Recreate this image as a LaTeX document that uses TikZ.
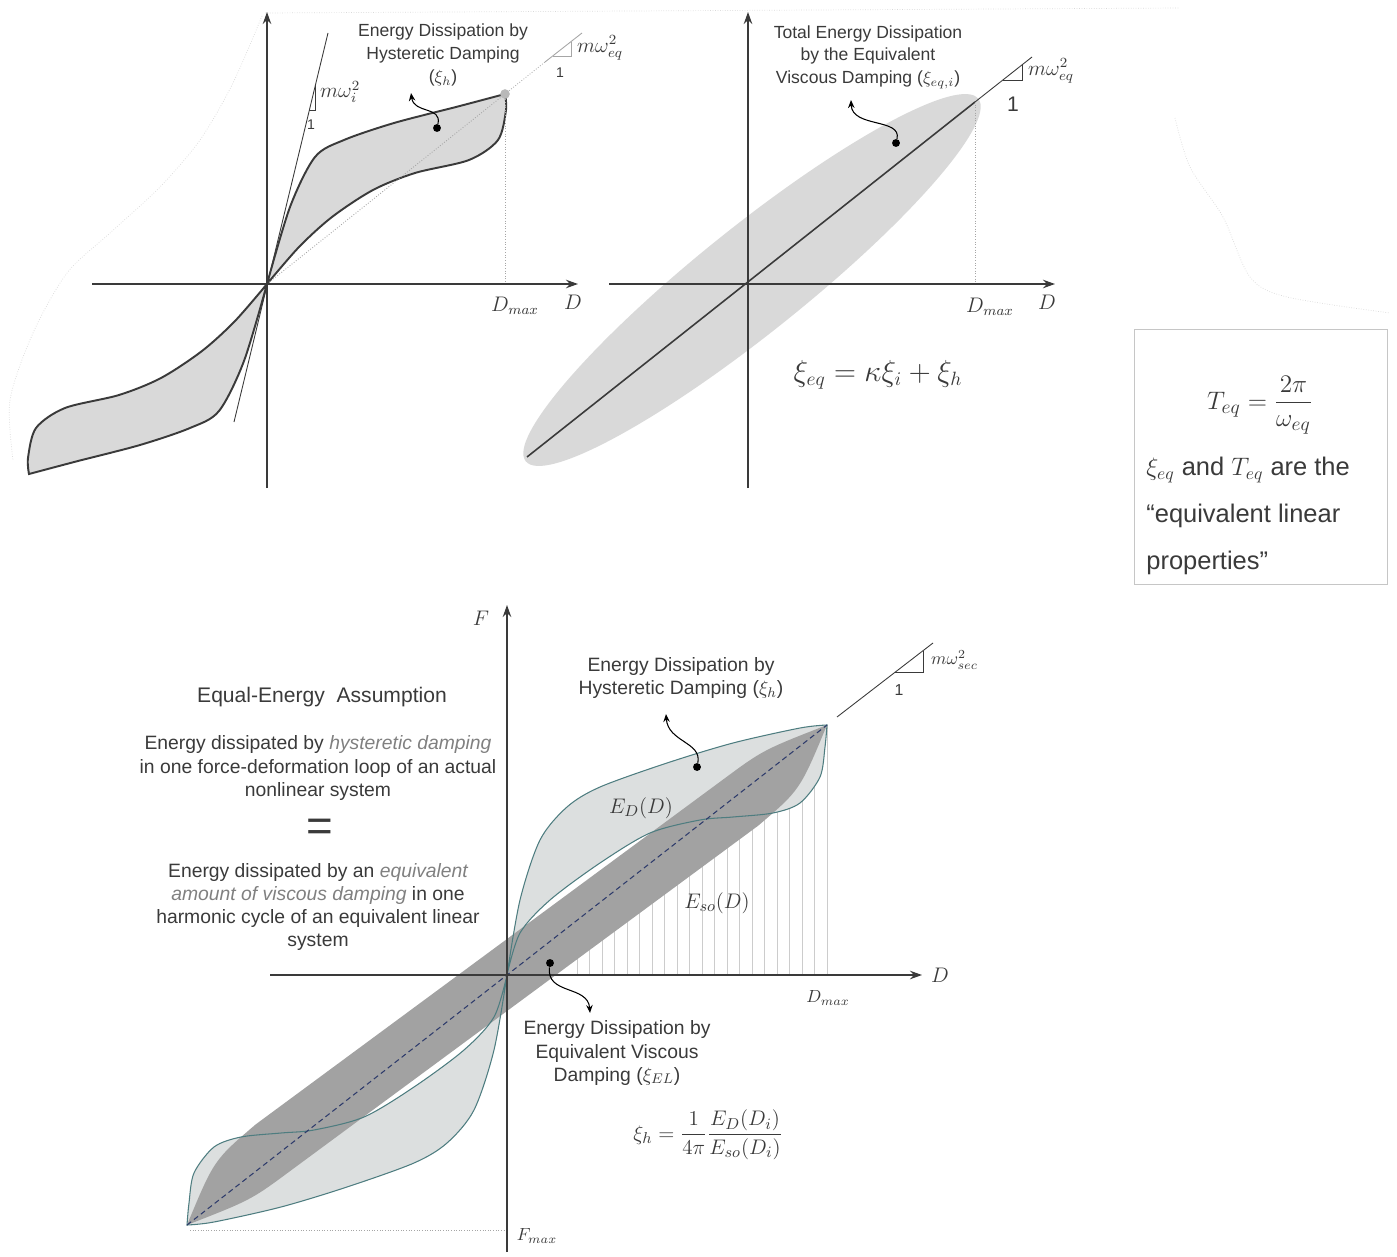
\documentclass[tikz,border=0pt]{standalone}
\usepackage{amsmath,amssymb}
\usepackage{fontspec}
\setmainfont{Liberation Sans}
\usepackage{xcolor}
\usepackage{tikz}
\usetikzlibrary{arrows.meta,positioning,calc}
\definecolor{ink}{HTML}{3A3A3A}
\definecolor{loopgray}{HTML}{D9D9D9}
\definecolor{paleloop}{HTML}{DCDFDF}
\definecolor{bandgray}{HTML}{A2A2A2}
\definecolor{tealline}{HTML}{4E7D80}
\definecolor{secnavy}{HTML}{2E3B6B}
\tikzset{
  axis/.style={draw=ink, line width=0.85pt, -{Stealth[length=2.4mm,width=1.7mm]}},
  guide/.style={draw=gray!70, densely dotted, line width=0.5pt},
  ghost/.style={draw=gray!30, densely dotted, line width=0.4pt},
  thinline/.style={draw=ink, line width=0.5pt},
  hyst/.style={fill=loopgray, draw=ink, line width=1.1pt},
  note/.style={align=center, font=\fontsize{10}{13}\selectfont, text=ink, inner sep=1pt},
  bignote/.style={align=center, font=\fontsize{11}{13.1}\selectfont, text=ink, inner sep=1pt},
  pin/.style={circle, fill=black, inner sep=0pt, minimum size=4.5pt},
  tipdot/.style={circle, fill=gray!55, inner sep=0pt, minimum size=5.5pt},
  curly/.style={-{Stealth[length=1.6mm,width=1.3mm]}, line width=0.6pt},
  lbl/.style={font=\fontsize{12}{14}\selectfont, text=ink, inner sep=1pt},
  hatch/.style={draw=gray!40, line width=0.35pt},
}

\begin{document}
\begin{tikzpicture}[x=0.02cm, y=-0.02cm]
  \useasboundingbox (0,0) rectangle (1397,1257);

  % faint outline left over in the original
  \draw[ghost] plot[smooth] coordinates {(262,16) (233,83) (200,140) (160,187) (110,233) (67,273) (33,333) (10,400) (13,460)};
  \draw[ghost] (265,13) -- (1180,8);
  \draw[ghost] plot[smooth] coordinates {(1175,118) (1190,167) (1223,217) (1250,277) (1287,297) (1390,313)};

  % ---- panel 1: hysteretic loop ----
  \coordinate (o1) at (267,284);
  \coordinate (t1) at (505,94);
  \foreach \r in {0,180}{
    \begin{scope}[shift={(o1)}, rotate=\r]
      \filldraw[hyst] plot[smooth] coordinates {(0,0) (23,-77) (48,-127) (77,-144) (127,-161) (189,-177) (238,-190)}
        -- plot[smooth] coordinates {(238,-190) (239,-174) (231,-144) (202,-124) (148,-111) (106,-94) (65,-67) (32,-37) (0,0)} -- cycle;
    \end{scope}
  }
  \draw[thinline] (234,422) -- (328,33);
  \draw[thinline] (309,110) -- (315,110) -- (315,85);
  \node[lbl, anchor=west] (k1) at (318,92) {$m\omega_i^2$};
  \node[font=\fontsize{8}{9}\selectfont, text=ink] (k1u) at (311,125) {1};
  \draw[guide] (o1) -- (t1);
  \draw[guide] (t1) -- (505,284);
  \draw[guide, draw=gray!60] (t1) -- (545,62);
  \draw[thinline, draw=gray!70] (545,62) -- (582,33);
  \draw[thinline, draw=gray!70] (553,56) -- (571,56) -- (571,42);
  \node[lbl, anchor=west] (k2) at (575,48) {$m\omega_{eq}^2$};
  \node[font=\fontsize{8}{9}\selectfont, text=ink] (k2u) at (560,73) {1};
  \node[tipdot] (td1) at (t1) {};
  \draw[axis] (92,284) -- (578,284);
  \draw[axis] (267,488) -- (267,12);
  \node[lbl] (dm1) at (515,306) {$D_{max}$};
  \node[lbl] (dd1) at (573,302) {$D$};
  \node[note] (h1) at (443,55) {Energy Dissipation by\\Hysteretic Damping\\($\xi_h$)};
  \node[pin] (d1) at (437,128) {};
  \coordinate (a1) at (411,93);
  \draw[curly] (d1) .. controls (442,106) and (414,114) .. (a1);

  % ---- panel 2: equivalent viscous ellipse ----
  \coordinate (o2) at (748,284);
  \coordinate (t2) at (975,102);
  \fill[loopgray, rotate around={38.7:(752,280)}] (752,280) ellipse (5.8cm and 1.06cm);
  \draw[ink, line width=0.9pt] (527,457) -- (t2);
  \draw[thinline] (t2) -- (1032,57);
  \draw[thinline] (1003,80) -- (1022,80) -- (1022,65);
  \node[lbl, anchor=west] (k3) at (1026,71) {$m\omega_{eq}^2$};
  \node[font=\fontsize{12}{13}\selectfont, text=ink] (k3u) at (1013,104) {1};
  \draw[guide] (t2) -- (975,284);
  \draw[axis] (609,284) -- (1055,284);
  \draw[axis] (748,488) -- (748,12);
  \node[lbl] (dm2) at (990,307) {$D_{max}$};
  \node[lbl] (dd2) at (1047,302) {$D$};
  \node[note] (h2) at (868,57) {Total Energy Dissipation\\by the Equivalent\\Viscous Damping ($\xi_{eq,i}$)};
  \node[pin] (d2) at (896,143) {};
  \coordinate (a2) at (851,100);
  \draw[curly] (d2) .. controls (902,118) and (852,128) .. (a2);
  \node[font=\fontsize{16}{18}\selectfont, text=ink] (f1) at (878,375) {$\xi_{eq}=\kappa\xi_i+\xi_h$};

  % ---- box: equivalent linear properties ----
  \node[draw=gray!45, line width=0.6pt, minimum width=5.06cm, minimum height=5.1cm, inner sep=0pt] (props) at (1261,457) {};
  \node[font=\fontsize{15}{17}\selectfont, text=ink] (teq) at (1260,405) {$T_{eq}=\dfrac{2\pi}{\omega_{eq}}$};
  \node[anchor=west, align=left, font=\fontsize{14.5}{26.7}\selectfont, text=ink, inner sep=0pt] (ptxt) at (1146,516)
    {$\xi_{eq}$ and $T_{eq}$ are the\\``equivalent linear\\properties''};

  % ---- panel 3: equal-energy assumption ----
  \coordinate (o3) at (507,975);
  \coordinate (t3) at (827,725);
  \coordinate (b3) at (187,1225);
  \foreach \x in {577,589.5,...,828}
    \draw[hatch] (\x,975) -- (\x,{975-(\x-507)*0.78125});
  \foreach \r in {0,180}{
    \begin{scope}[shift={(o3)}, rotate=\r]
      \fill[paleloop] plot[smooth] coordinates {(0,0) (13,-75) (33,-135) (60,-168) (93,-188) (160,-212) (226,-232) (293,-247) (320,-250)}
        -- plot[smooth] coordinates {(320,-250) (318,-228) (313,-198) (293,-172) (266,-162) (226,-158) (193,-155) (143,-142) (93,-112) (43,-75) (13,-42) (0,0)} -- cycle;
    \end{scope}
  }
  % equivalent viscous band
  \fill[bandgray] (255.7,1124.4) -- (722.6,779.9) .. controls (763,750) .. (t3)
    .. controls (800,790) .. (758.3,825.6) -- (291.4,1170.1) .. controls (251,1200) .. (b3)
    .. controls (214,1160) .. cycle;
  \foreach \r in {0,180}{
    \begin{scope}[shift={(o3)}, rotate=\r]
      \draw[tealline, line width=0.6pt] plot[smooth] coordinates {(0,0) (13,-75) (33,-135) (60,-168) (93,-188) (160,-212) (226,-232) (293,-247) (320,-250)}
        -- plot[smooth] coordinates {(320,-250) (318,-228) (313,-198) (293,-172) (266,-162) (226,-158) (193,-155) (143,-142) (93,-112) (43,-75) (13,-42) (0,0)};
    \end{scope}
  }
  \draw[secnavy, line width=0.6pt, dash pattern=on 3pt off 2pt] (b3) -- (t3);
  \draw[guide] (190,1230) -- (507,1230);
  \draw[axis] (270,975) -- (922,975);
  \draw[axis] (507,1252) -- (507,605);
  \draw[thinline] (837,717) -- (933,643);
  \draw[thinline] (895,672) -- (923,672) -- (923,651);
  \node[font=\fontsize{10}{12}\selectfont, text=ink, anchor=west] (k4) at (925,660) {$m\omega_{sec}^2$};
  \node[font=\fontsize{9}{10}\selectfont, text=ink] (k4u) at (899,690) {1};
  \node[lbl] (ff) at (481,618) {$F$};
  \node[lbl, font=\fontsize{13}{14}\selectfont] (dd3) at (940,975) {$D$};
  \node[lbl, font=\fontsize{10}{12}\selectfont] (dm3) at (828,998) {$D_{max}$};
  \node[lbl, font=\fontsize{10}{12}\selectfont] (fm3) at (537,1236) {$F_{max}$};
  \node[font=\fontsize{13}{15}\selectfont, text=ink] (ed) at (641,808) {$E_D(D)$};
  \node[font=\fontsize{13}{15}\selectfont, text=ink] (eso) at (717,903) {$E_{so}(D)$};
  \node[bignote] (h3) at (681,678) {Energy Dissipation by\\Hysteretic Damping ($\xi_h$)};
  \node[pin] (d3) at (697,767) {};
  \coordinate (a3) at (666,714);
  \draw[curly] (d3) .. controls (702,742) and (668,742) .. (a3);
  \node[bignote] (h4) at (617,1053) {Energy Dissipation by\\Equivalent Viscous\\Damping ($\xi_{EL}$)};
  \node[pin] (d4) at (550,963) {};
  \coordinate (a4) at (590,1013);
  \draw[curly] (d4) .. controls (546,995) and (588,985) .. (a4);
  \node[font=\fontsize{13}{15}\selectfont, text=ink] (f2) at (708,1135) {$\xi_h=\dfrac{1}{4\pi}\dfrac{E_D(D_i)}{E_{so}(D_i)}$};

  % text block on the left
  \node[text=ink, font=\fontsize{12}{14}\selectfont] (ttl) at (322,697) {Equal-Energy\ \ Assumption};
  \node[bignote] (p1) at (318,768) {Energy dissipated by \textit{\color{gray}hysteretic damping}\\in one force-deformation loop of an actual\\nonlinear system};
  \node[text=ink, font=\fontsize{26}{26}\selectfont] (eq) at (320,830) {=};
  \node[bignote] (p2) at (318,907) {Energy dissipated by an \textit{\color{gray}equivalent}\\\textit{\color{gray}amount of viscous damping} in one\\harmonic cycle of an equivalent linear\\system};
\end{tikzpicture}
\end{document}
